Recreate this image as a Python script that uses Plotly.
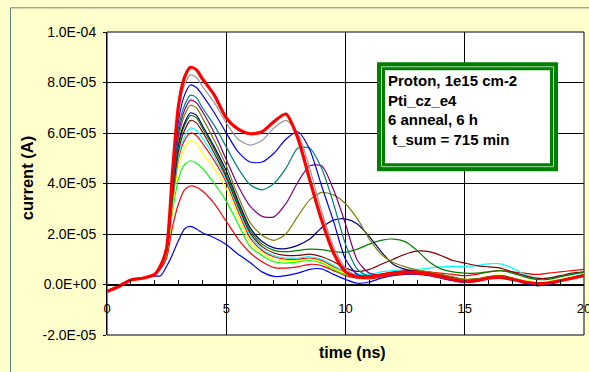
import plotly.graph_objects as go

# ---------------- data (current in units of 1e-5 A) ----------------
SCALE = 1e-5
time_ns = [0, 0.5, 1, 1.5, 2, 2.25, 2.5, 2.75, 3, 3.25, 3.5, 3.75, 4, 4.5, 5, 5.5, 6, 6.5, 7, 7.5,
           8, 8.5, 9, 9.5, 10, 10.5, 11, 11.5, 12, 12.5, 13, 13.5, 14, 14.5, 15, 15.5, 16, 16.5,
           17, 17.5, 18, 18.5, 19, 19.5, 20]

blue_low = [-0.25, -0.05, 0.2, 0.25, 0.33, 0.35, 0.72, 1.2, 1.75, 2.2, 2.3, 2.2, 2.05, 1.85, 1.58, 1.2, 0.87, 0.5, 0.32, 0.35,
            0.45, 0.6, 0.62, 0.4, 0.2, 0.05, 0.1, 0.25, 0.35, 0.4, 0.4, 0.35, 0.25, 0.15, 0.08, 0.12, 0.25, 0.3,
            0.2, 0.05, -0.05, 0.0, 0.12, 0.25, 0.35]
red_low = [-0.25, -0.05, 0.2, 0.25, 0.38, 0.62, 1.05, 2.3, 3.2, 3.75, 3.9, 3.85, 3.7, 3.2, 2.5, 1.8, 1.26, 0.9, 0.67, 0.65,
           0.7, 0.8, 0.75, 0.55, 0.35, 0.25, 0.22, 0.3, 0.38, 0.42, 0.42, 0.37, 0.28, 0.2, 0.12, 0.16, 0.26, 0.31,
           0.21, 0.09, 0.02, 0.04, 0.14, 0.25, 0.35]
lime = [-0.25, -0.05, 0.2, 0.25, 0.4, 0.7, 1.2, 2.9, 4.2, 4.75, 4.9, 4.8, 4.6, 4.0, 3.3, 2.4, 1.5, 1.15, 0.9, 0.85,
        0.9, 0.95, 0.85, 0.6, 0.4, 0.3, 0.27, 0.34, 0.42, 0.45, 0.45, 0.4, 0.32, 0.23, 0.17, 0.21, 0.31, 0.36,
        0.26, 0.14, 0.07, 0.09, 0.18, 0.28, 0.38]
yellow = [-0.25, -0.05, 0.2, 0.25, 0.4, 0.75, 1.3, 3.1, 4.7, 5.4, 5.7, 5.6, 5.2, 4.6, 3.8, 2.7, 1.7, 1.25, 1.0, 0.95,
          0.95, 1.0, 0.9, 0.65, 0.45, 0.32, 0.28, 0.35, 0.42, 0.46, 0.46, 0.42, 0.33, 0.25, 0.2, 0.24, 0.33, 0.38,
          0.28, 0.17, 0.1, 0.12, 0.2, 0.3, 0.4]
red_thin = [-0.25, -0.05, 0.2, 0.25, 0.4, 0.75, 1.35, 3.3, 5.0, 5.7, 6.0, 5.9, 5.6, 4.9, 4.05, 2.9, 1.85, 1.35, 1.1, 1.0,
            1.0, 1.05, 0.95, 0.7, 0.5, 0.4, 0.35, 0.4, 0.5, 0.55, 0.55, 0.5, 0.45, 0.4, 0.35, 0.4, 0.5, 0.55,
            0.5, 0.45, 0.4, 0.45, 0.5, 0.55, 0.6]
cyan = [-0.25, -0.05, 0.2, 0.25, 0.4, 0.75, 1.35, 3.4, 5.1, 5.85, 6.2, 6.1, 5.8, 5.05, 4.15, 3.0, 1.95, 1.4, 1.15, 1.05,
        1.05, 1.1, 1.0, 0.75, 0.5, 0.4, 0.4, 0.5, 0.55, 0.6, 0.6, 0.65, 0.7, 0.72, 0.72, 0.75, 0.82, 0.82,
        0.65, 0.4, 0.25, 0.25, 0.33, 0.4, 0.45]
maroon = [-0.25, -0.05, 0.2, 0.25, 0.4, 0.75, 1.35, 3.5, 5.3, 6.1, 6.5, 6.4, 6.05, 5.2, 4.25, 3.1, 2.05, 1.5, 1.25, 1.15,
          1.15, 1.2, 1.1, 0.9, 0.65, 0.52, 0.6, 0.8, 1.0, 1.2, 1.32, 1.3, 1.15, 0.95, 0.85, 0.75, 0.7, 0.65,
          0.5, 0.35, 0.25, 0.25, 0.35, 0.45, 0.5]
dkgreen = [-0.25, -0.05, 0.2, 0.25, 0.4, 0.75, 1.35, 3.6, 5.5, 6.3, 6.7, 6.6, 6.2, 5.35, 4.35, 3.2, 2.15, 1.6, 1.35, 1.3,
           1.35, 1.4, 1.38, 1.3, 1.28, 1.4, 1.6, 1.75, 1.8, 1.7, 1.35, 0.9, 0.62, 0.5, 0.45, 0.45, 0.5, 0.55,
           0.45, 0.3, 0.2, 0.2, 0.3, 0.4, 0.5]
navy = [-0.25, -0.05, 0.2, 0.25, 0.4, 0.75, 1.35, 3.7, 5.6, 6.4, 6.8, 6.7, 6.3, 5.45, 4.5, 3.3, 2.25, 1.7, 1.45, 1.42,
        1.55, 1.8, 2.25, 2.55, 2.6, 2.4, 1.9, 1.3, 0.8, 0.6, 0.5, 0.45, 0.38, 0.28, 0.2, 0.22, 0.3, 0.35,
        0.25, 0.12, 0.05, 0.07, 0.16, 0.27, 0.37]
olive = [-0.25, -0.05, 0.2, 0.25, 0.4, 0.75, 1.35, 3.8, 5.8, 6.7, 7.1, 7.0, 6.6, 5.7, 4.7, 3.5, 2.45, 1.95, 1.75, 2.0,
         2.7, 3.35, 3.65, 3.55, 3.2, 2.6, 1.8, 1.2, 0.87, 0.7, 0.58, 0.5, 0.4, 0.3, 0.2, 0.22, 0.3, 0.35,
         0.25, 0.13, 0.06, 0.08, 0.17, 0.28, 0.38]
purple = [-0.25, -0.05, 0.2, 0.25, 0.4, 0.75, 1.35, 3.9, 6.0, 6.9, 7.3, 7.2, 6.85, 6.0, 4.95, 3.9, 3.1, 2.7, 2.68, 3.2,
          4.05, 4.7, 4.7, 3.75, 2.4, 0.95, 0.45, 0.38, 0.42, 0.46, 0.46, 0.4, 0.3, 0.2, 0.14, 0.18, 0.28, 0.33,
          0.23, 0.11, 0.05, 0.07, 0.16, 0.27, 0.37]
teal = [-0.25, -0.05, 0.2, 0.25, 0.4, 0.75, 1.4, 4.0, 6.2, 7.1, 7.5, 7.4, 7.0, 6.3, 5.45, 4.6, 3.95, 3.75, 4.0, 4.6,
        5.4, 5.4, 4.6, 3.2, 1.6, 0.6, 0.32, 0.35, 0.42, 0.46, 0.46, 0.4, 0.3, 0.2, 0.14, 0.18, 0.28, 0.33,
        0.23, 0.11, 0.05, 0.07, 0.16, 0.27, 0.37]
blue = [-0.25, -0.05, 0.2, 0.25, 0.4, 0.75, 1.4, 4.1, 6.5, 7.5, 7.9, 7.8, 7.5, 6.8, 6.0, 5.25, 4.85, 4.85, 5.2, 5.75,
        6.05, 5.35, 3.9, 2.5, 1.0, 0.4, 0.3, 0.35, 0.42, 0.45, 0.45, 0.4, 0.3, 0.2, 0.13, 0.17, 0.27, 0.32,
        0.22, 0.1, 0.03, 0.05, 0.15, 0.26, 0.36]
gray = [-0.25, -0.05, 0.2, 0.25, 0.4, 0.75, 1.4, 4.3, 6.9, 7.9, 8.3, 8.2, 7.85, 7.2, 6.4, 5.75, 5.52, 5.7, 6.2, 6.5,
        6.0, 4.6, 2.9, 1.5, 0.65, 0.3, 0.28, 0.36, 0.43, 0.46, 0.45, 0.4, 0.3, 0.2, 0.14, 0.18, 0.28, 0.32,
        0.24, 0.12, 0.06, 0.08, 0.17, 0.27, 0.37]
red_thick = [-0.28, -0.08, 0.18, 0.25, 0.4, 0.75, 1.45, 4.5, 7.1, 8.2, 8.6, 8.5, 8.15, 7.5, 6.6, 6.15, 5.97, 6.05, 6.45, 6.75,
             5.8, 4.15, 2.55, 1.25, 0.5, 0.3, 0.3, 0.38, 0.45, 0.48, 0.47, 0.42, 0.32, 0.2, 0.12, 0.15, 0.25, 0.28,
             0.2, 0.1, 0.04, 0.06, 0.15, 0.25, 0.35]

series = [
    (blue_low, "#0000FF", 1.2), (red_low, "#FF0000", 1.2), (lime, "#00FF00", 1.2), (yellow, "#FFFF00", 1.2),
    (red_thin, "#FF0000", 1.2), (cyan, "#00FFFF", 1.2), (maroon, "#800000", 1.2), (dkgreen, "#008000", 1.2),
    (navy, "#000080", 1.2), (olive, "#808000", 1.2), (purple, "#800080", 1.2), (teal, "#008080", 1.2),
    (blue, "#0000FF", 1.2), (gray, "#969696", 1.2), (red_thick, "#FF0000", 3.2),
]

y_ticks = [-2e-5, 0, 2e-5, 4e-5, 6e-5, 8e-5, 1e-4]
y_labels = ["-2.0E-05", "0.0E+00", "2.0E-05", "4.0E-05", "6.0E-05", "8.0E-05", "1.0E-04"]
x_ticks = [0, 5, 10, 15, 20]
x_labels = ["0", "5", "10", "15", "20"]

# ---------------- layout geometry (pixels) ----------------
W, H = 589, 372
L, R, T, B = 107, 584, 31.7, 335


def px(x):
    return (x - L) / (R - L)


def py(y):
    return (B - y) / (B - T)


FONT = "Liberation Sans, Arial, sans-serif"

fig = go.Figure()
for vals, col, w in series:
    fig.add_trace(go.Scatter(
        x=time_ns, y=[v * SCALE for v in vals], mode="lines",
        line=dict(color=col, width=w, shape="spline", smoothing=0.7),
        showlegend=False, hoverinfo="skip"))

fig.update_layout(
    width=W, height=H,
    margin=dict(l=L, r=W - R, t=T, b=H - B, autoexpand=False),
    paper_bgcolor="#FFFFCC", plot_bgcolor="#FFFFFF",
    font=dict(family=FONT, color="#000000"),
    showlegend=False,
    xaxis=dict(range=[0, 20], tickvals=x_ticks, ticktext=x_labels,
               showgrid=True, gridcolor="#000000", gridwidth=1, zeroline=False,
               showline=True, linecolor="#000000", linewidth=1,
               ticks="inside", ticklen=5, tickcolor="#000000",
               minor=dict(dtick=1, ticks="inside", ticklen=5, tickcolor="#000000", showgrid=False),
               anchor="free", position=2 / 12, tickfont=dict(size=13, family=FONT),
               ticklabelstandoff=12, ticklabeloverflow="allow"),
    yaxis=dict(range=[-2e-5, 1e-4], tickvals=y_ticks, ticktext=y_labels,
               showgrid=True, gridcolor="#000000", gridwidth=1, zeroline=False,
               showline=True, linecolor="#000000", linewidth=1,
               ticks="outside", ticklen=3, tickcolor="#000000",
               tickfont=dict(size=14, family=FONT), ticklabelstandoff=4,
               ticklabeloverflow="allow"),
)

shapes = [
    # outer chart-area border
    dict(type="rect", xref="paper", yref="paper", x0=px(10.5), x1=px(640), y0=py(420), y1=py(7.5),
         line=dict(color="#5F7F7F", width=1), fillcolor="rgba(0,0,0,0)", layer="below"),
    # plot frame
    dict(type="rect", xref="paper", yref="paper", x0=0, x1=1, y0=0, y1=1,
         line=dict(color="#000000", width=1), layer="below"),
    # text box: green double border
    dict(type="rect", xref="paper", yref="paper", x0=px(377), x1=px(558), y0=py(171), y1=py(62),
         fillcolor="#008000", line=dict(width=0), layer="above"),
    dict(type="rect", xref="paper", yref="paper", x0=px(381.5), x1=px(553.5), y0=py(166.5), y1=py(66.5),
         fillcolor="rgba(0,0,0,0)", line=dict(color="#A8D8A8", width=1), layer="above"),
    dict(type="rect", xref="paper", yref="paper", x0=px(385), x1=px(550), y0=py(163), y1=py(70),
         fillcolor="#FFFFFF", line=dict(width=0), layer="above"),
]
fig.update_layout(shapes=shapes)

fig.add_annotation(xref="paper", yref="paper", x=px(387), y=py(71), xanchor="left", yanchor="top",
                   align="left", showarrow=False, borderpad=0,
                   text="<b>Proton, 1e15 cm-2<br>Pti_cz_e4<br>6 anneal, 6 h<br>\u00a0t_sum = 715 min</b>",
                   font=dict(size=15, family=FONT, color="#000000"))
fig.add_annotation(xref="paper", yref="paper", x=px(26.5), y=py(178.5), xanchor="center", yanchor="middle",
                   textangle=-90, showarrow=False, text="<b>current (A)</b>",
                   font=dict(size=16.5, family=FONT, color="#000000"))
fig.add_annotation(xref="paper", yref="paper", x=px(352), y=py(353), xanchor="center", yanchor="middle",
                   showarrow=False, text="<b>time (ns)</b>",
                   font=dict(size=16, family=FONT, color="#000000"))

fig.write_html("out.html")
